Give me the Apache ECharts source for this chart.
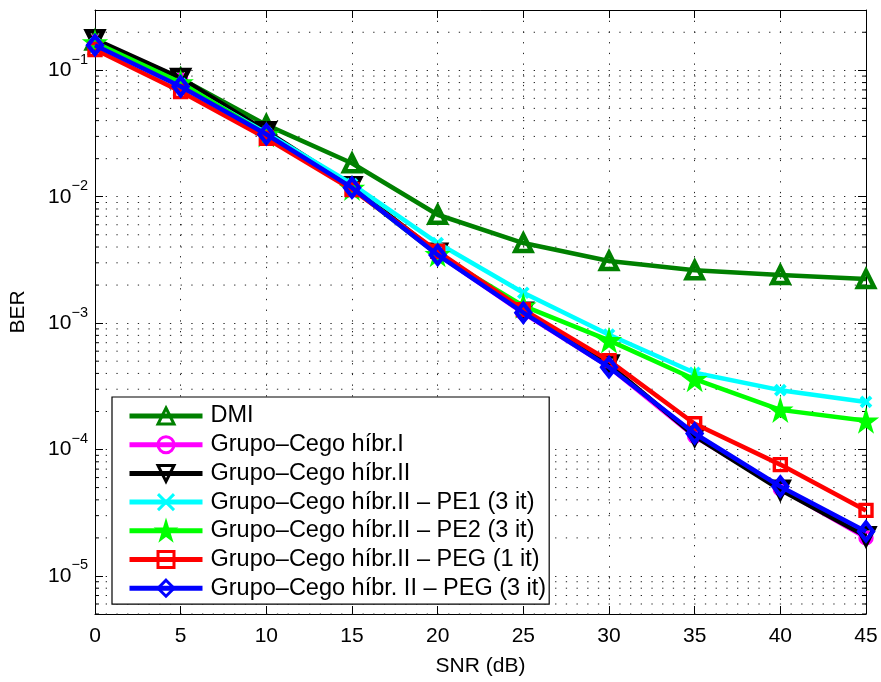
<!DOCTYPE html>
<html>
<head>
<meta charset="utf-8">
<script src="https://cdn.jsdelivr.net/npm/echarts@6/dist/echarts.min.js"></script>
<style>html,body{margin:0;padding:0;background:#fff;}#c{width:881px;height:682px;}</style>
</head>
<body>
<div id="c"></div>
<script>
const snr = [0, 5, 10, 15, 20, 25, 30, 35, 40, 45];
const xTicks = [0, 5, 10, 15, 20, 25, 30, 35, 40, 45];
const yMajorTicks = [1e-5, 1e-4, 1e-3, 1e-2, 1e-1];
const seriesNames = [
  'DMI',
  'Grupo\u2013Cego híbr.I',
  'Grupo\u2013Cego híbr.II',
  'Grupo\u2013Cego híbr.II \u2013 PE1 (3 it)',
  'Grupo\u2013Cego híbr.II \u2013 PE2 (3 it)',
  'Grupo\u2013Cego híbr.II \u2013 PEG (1 it)',
  'Grupo\u2013Cego híbr. II \u2013 PEG (3 it)'
];
const dmi   = [0.172, 0.086, 0.037, 0.0184, 0.0072, 0.0043, 0.0031, 0.00262, 0.0024, 0.00223];
const hibI  = [0.168, 0.084, 0.032, 0.0118, 0.0035, 0.0012, 0.00045, 0.000127, 4.9e-5, 2.0e-5];
const hibII = [0.176, 0.087, 0.033, 0.0121, 0.0036, 0.00123, 0.00047, 0.000128, 4.8e-5, 2.06e-5];
const pe1   = [0.163, 0.078, 0.032, 0.0126, 0.0043, 0.00174, 0.00081, 0.000405, 0.000295, 0.000238];
const pe2   = [0.166, 0.080, 0.031, 0.0117, 0.0035, 0.00137, 0.00073, 0.00036, 0.000206, 0.000169];
const peg1  = [0.146, 0.068, 0.029, 0.0114, 0.0037, 0.00128, 0.000505, 0.00016, 7.6e-5, 3.3e-5];
const peg3  = [0.158, 0.0745, 0.0312, 0.0118, 0.00346, 0.00121, 0.000448, 0.000134, 5.1e-5, 2.25e-5];
const seriesValues = [dmi, hibI, hibII, pe1, pe2, peg1, peg3];
const seriesColors = ['#008000', '#ff00ff', '#000000', '#00ffff', '#00ff00', '#ff0000', '#0000ff'];

const yMin = 5e-6, yMax = 0.3;
// minor grid values 2..9 x 10^k inside the range
const yMinorTicks = [];
for (let k = -6; k <= -1; k++) {
  for (let m = 2; m <= 9; m++) {
    const v = m * Math.pow(10, k);
    if (v >= yMin * 0.999 && v < yMax * 0.999) yMinorTicks.push(+v.toPrecision(3));
  }
}

const FONT = 'Liberation Sans, Arial, Helvetica, sans-serif';
const dots = [1.3, 9.4];
const star = 'path://M50,0L61,35L98,35L68,57L79,91L50,70L21,91L32,57L2,35L39,35Z';
const xmark = 'path://M0,0L10,10M10,0L0,10';
const symbols = ['triangle', 'circle', 'triangle', xmark, star, 'rect', 'diamond'];
const sizes = [16, 12, 16, 10, 22, 12, [14, 18]];
const rotates = [0, 0, 180, 0, 0, 0, 0];
const filled = [false, false, false, false, true, false, false];
const borders = [4.5, 3.4, 4.5, 3.8, 1.5, 3.4, 4.2];

const chart = echarts.init(document.getElementById('c'), null, {renderer: 'canvas'});

const lineSeries = seriesNames.map((name, i) => ({
  name: name,
  type: 'line',
  xAxisIndex: 0,
  yAxisIndex: 0,
  data: snr.map((x, j) => [x, seriesValues[i][j]]),
  symbol: symbols[i],
  symbolSize: sizes[i],
  symbolRotate: rotates[i],
  showAllSymbol: true,
  lineStyle: {color: seriesColors[i], width: 4.5},
  itemStyle: {
    color: filled[i] ? seriesColors[i] : 'rgba(255,255,255,0)',
    borderColor: seriesColors[i],
    borderWidth: borders[i]
  },
  emphasis: {disabled: true},
  z: 3 + i,
  clip: false
}));

const minorSeries = {
  type: 'custom',
  xAxisIndex: 0,
  yAxisIndex: 0,
  silent: true,
  z: 1,
  data: yMinorTicks.map(v => [0, v]),
  encode: {x: 0, y: 1},
  renderItem: function (params, api) {
    const v = api.value(1);
    const p0 = api.coord([xTicks[0], v]);
    const p1 = api.coord([xTicks[xTicks.length - 1], v]);
    const tl = 4;
    return {
      type: 'group',
      children: [
        {type: 'line', shape: {x1: p0[0], y1: p0[1], x2: p1[0], y2: p1[1]},
         style: {stroke: '#222', lineWidth: 1, lineDash: dots}},
        {type: 'line', shape: {x1: p0[0], y1: p0[1], x2: p0[0] + tl, y2: p0[1]},
         style: {stroke: '#000', lineWidth: 1}},
        {type: 'line', shape: {x1: p1[0] - tl, y1: p1[1], x2: p1[0], y2: p1[1]},
         style: {stroke: '#000', lineWidth: 1}}
      ]
    };
  }
};

function yLabel(v) {
  const e = Math.log10(v);
  const r = Math.round(e);
  if (Math.abs(e - r) > 1e-6) return '';
  return '{b|10}{s|' + (r < 0 ? '\u2212' : '') + Math.abs(r) + '}';
}

const option = {
  animation: false,
  backgroundColor: '#fff',
  textStyle: {fontFamily: FONT},
  grid: {left: 95, right: 15, top: 10, bottom: 63, containLabel: false,
         show: false},
  xAxis: [{
    type: 'value', min: 0, max: 45, interval: 5, position: 'bottom',
    name: 'SNR (dB)', nameLocation: 'middle', nameGap: 42,
    nameTextStyle: {fontSize: 21, color: '#000', fontFamily: FONT},
    axisLine: {show: true, onZero: false, lineStyle: {color: '#000', width: 1}},
    axisTick: {show: true, inside: true, length: 8, lineStyle: {color: '#000'}},
    axisLabel: {show: true, fontSize: 21, color: '#000', margin: 12, fontFamily: FONT},
    splitLine: {show: true, lineStyle: {color: '#222', width: 1, type: dots}}
  }, {
    type: 'value', min: 0, max: 45, interval: 5, position: 'top',
    axisLine: {show: true, onZero: false, lineStyle: {color: '#000', width: 1}},
    axisTick: {show: true, inside: true, length: 8, lineStyle: {color: '#000'}},
    axisLabel: {show: false},
    splitLine: {show: false}
  }],
  yAxis: [{
    type: 'log', logBase: 10, min: yMin, max: yMax, position: 'left',
    name: 'BER', nameLocation: 'middle', nameGap: 66, nameRotate: 90,
    nameTextStyle: {fontSize: 21, color: '#000', fontFamily: FONT},
    axisLine: {show: true, onZero: false, lineStyle: {color: '#000', width: 1}},
    axisTick: {show: true, inside: true, length: 8, lineStyle: {color: '#000'}},
    axisLabel: {
      show: true, margin: 7, formatter: yLabel,
      rich: {
        b: {fontSize: 21, color: '#000', fontFamily: FONT, lineHeight: 36, verticalAlign: 'middle'},
        s: {fontSize: 14.5, color: '#000', fontFamily: FONT, lineHeight: 14, verticalAlign: 'top'}
      }
    },
    splitLine: {show: true, lineStyle: {color: '#222', width: 1, type: dots}}
  }, {
    type: 'log', logBase: 10, min: yMin, max: yMax, position: 'right',
    axisLine: {show: true, onZero: false, lineStyle: {color: '#000', width: 1}},
    axisTick: {show: true, inside: true, length: 8, lineStyle: {color: '#000'}},
    axisLabel: {show: false},
    splitLine: {show: false}
  }],
  legend: {
    show: true,
    data: seriesNames,
    orient: 'vertical',
    left: 112, top: 397,
    padding: [7, 3, 4, 15],
    itemWidth: 73, itemHeight: 20, itemGap: 4.7,
    backgroundColor: '#fff',
    borderColor: '#000', borderWidth: 1.2,
    selectedMode: false,
    lineStyle: {width: 5},
    itemStyle: {borderWidth: 3},
    textStyle: {fontSize: 23.5, color: '#000', fontFamily: FONT, padding: [0, 0, 0, 3]}
  },
  series: [minorSeries].concat(lineSeries)
};
chart.setOption(option);
</script>
</body>
</html>
